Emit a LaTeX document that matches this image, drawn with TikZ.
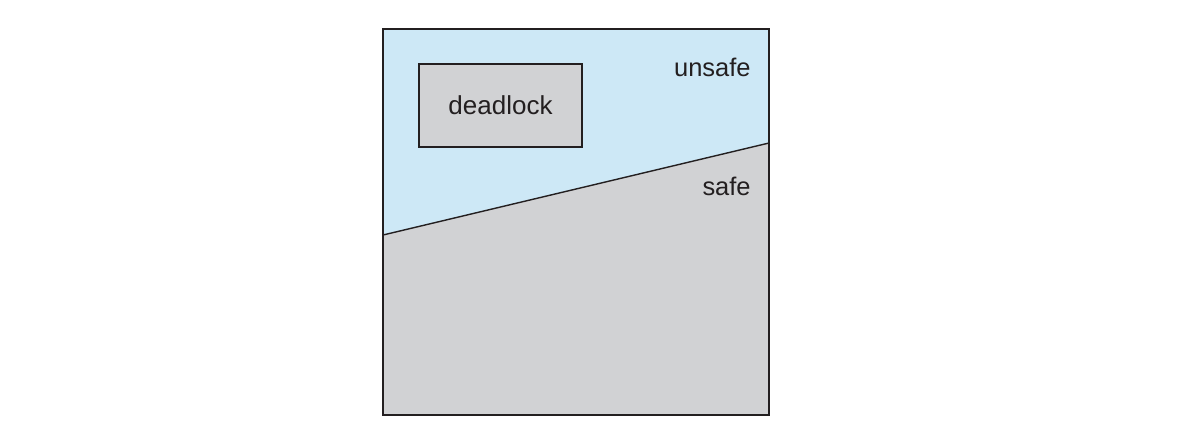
\documentclass[tikz,border=0pt]{standalone}
\usepackage{fontspec}
\setmainfont{Liberation Sans}
\usetikzlibrary{positioning}
\definecolor{Unsafe}{HTML}{CDE8F6}
\definecolor{Safe}{HTML}{D1D2D4}
\definecolor{Ink}{HTML}{231F20}
\tikzset{
  region/.style={draw=none},
  frame/.style={draw=Ink,line width=.8pt},
  statebox/.style={rectangle,draw=Ink,line width=.7pt,fill=Safe,minimum width=163*0.02cm,minimum height=83*0.02cm,inner sep=0pt,text=Ink,font=\fontsize{14.8}{17}\selectfont},
  lab/.style={anchor=east,inner sep=0pt,font=\fontsize{14.5}{17}\selectfont,text=Ink}
}
\begin{document}
\begin{tikzpicture}[x=0.02cm,y=-0.02cm]
        \useasboundingbox (0,0) rectangle (1186,424);
        \coordinate (nw) at (383,29);
        \coordinate (ne) at (769,29);
        \coordinate (se) at (769,415);
        \coordinate (sw) at (383,415);
        \coordinate (cutl) at (383,235);
        \coordinate (cutr) at (769,143);

        \fill[region,Unsafe] (nw)--(ne)--(cutr)--(cutl)--cycle;
        \fill[region,Safe] (cutl)--(cutr)--(se)--(sw)--cycle;
        \draw[frame] (cutl)--(cutr);
        \draw[frame] (nw) rectangle (se);

        \node[statebox] (dl) at (500.5,105.5) {deadlock};
        \node[lab] (us) at (751,67) {unsafe};
        \node[lab] (sf) at (751,186) {safe};
      \end{tikzpicture}
\end{document}
